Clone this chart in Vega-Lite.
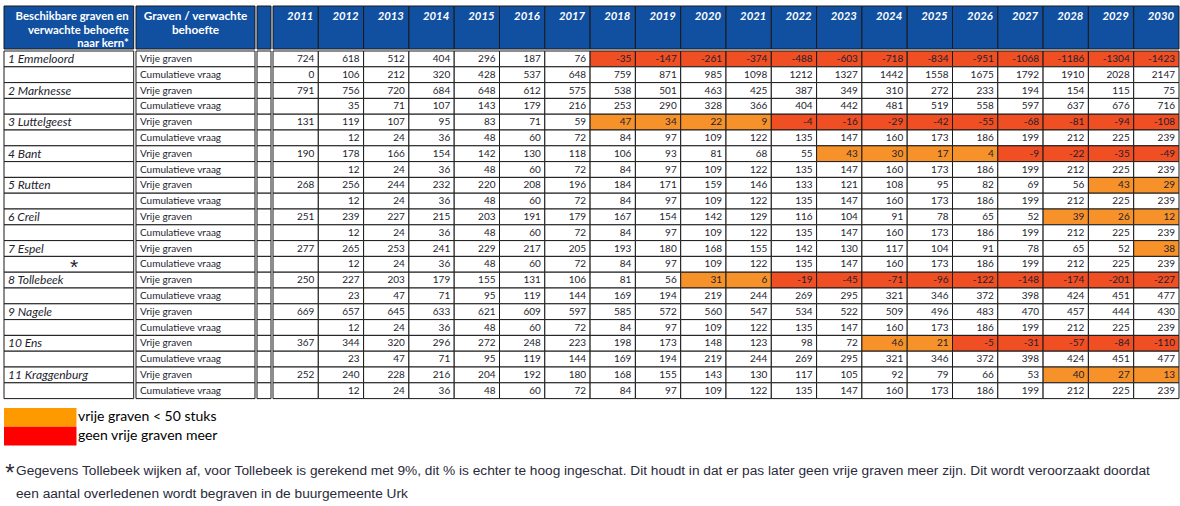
{
  "$schema": "https://vega.github.io/schema/vega-lite/v6.json",
  "padding": {"left": 3, "top": 5, "right": 2, "bottom": 0},
  "background": "white",
  "config": {"view": {"stroke": null}, "concat": {"spacing": 0}, "text": {"font": "Lato", "color": "#1e1e2e"}},
  "datasets": {
    "t": [
      {"r":1,"kern":"1 Emmeloord","graven":"Vrije graven","2011":724,"2012":618,"2013":512,"2014":404,"2015":296,"2016":187,"2017":76,"2018":-35,"2019":-147,"2020":-261,"2021":-374,"2022":-488,"2023":-603,"2024":-718,"2025":-834,"2026":-951,"2027":-1068,"2028":-1186,"2029":-1304,"2030":-1423},
      {"r":2,"kern":"","graven":"Cumulatieve vraag","2011":0,"2012":106,"2013":212,"2014":320,"2015":428,"2016":537,"2017":648,"2018":759,"2019":871,"2020":985,"2021":1098,"2022":1212,"2023":1327,"2024":1442,"2025":1558,"2026":1675,"2027":1792,"2028":1910,"2029":2028,"2030":2147},
      {"r":3,"kern":"2 Marknesse","graven":"Vrije graven","2011":791,"2012":756,"2013":720,"2014":684,"2015":648,"2016":612,"2017":575,"2018":538,"2019":501,"2020":463,"2021":425,"2022":387,"2023":349,"2024":310,"2025":272,"2026":233,"2027":194,"2028":154,"2029":115,"2030":75},
      {"r":4,"kern":"","graven":"Cumulatieve vraag","2012":35,"2013":71,"2014":107,"2015":143,"2016":179,"2017":216,"2018":253,"2019":290,"2020":328,"2021":366,"2022":404,"2023":442,"2024":481,"2025":519,"2026":558,"2027":597,"2028":637,"2029":676,"2030":716},
      {"r":5,"kern":"3 Luttelgeest","graven":"Vrije graven","2011":131,"2012":119,"2013":107,"2014":95,"2015":83,"2016":71,"2017":59,"2018":47,"2019":34,"2020":22,"2021":9,"2022":-4,"2023":-16,"2024":-29,"2025":-42,"2026":-55,"2027":-68,"2028":-81,"2029":-94,"2030":-108},
      {"r":6,"kern":"","graven":"Cumulatieve vraag","2012":12,"2013":24,"2014":36,"2015":48,"2016":60,"2017":72,"2018":84,"2019":97,"2020":109,"2021":122,"2022":135,"2023":147,"2024":160,"2025":173,"2026":186,"2027":199,"2028":212,"2029":225,"2030":239},
      {"r":7,"kern":"4 Bant","graven":"Vrije graven","2011":190,"2012":178,"2013":166,"2014":154,"2015":142,"2016":130,"2017":118,"2018":106,"2019":93,"2020":81,"2021":68,"2022":55,"2023":43,"2024":30,"2025":17,"2026":4,"2027":-9,"2028":-22,"2029":-35,"2030":-49},
      {"r":8,"kern":"","graven":"Cumulatieve vraag","2012":12,"2013":24,"2014":36,"2015":48,"2016":60,"2017":72,"2018":84,"2019":97,"2020":109,"2021":122,"2022":135,"2023":147,"2024":160,"2025":173,"2026":186,"2027":199,"2028":212,"2029":225,"2030":239},
      {"r":9,"kern":"5 Rutten","graven":"Vrije graven","2011":268,"2012":256,"2013":244,"2014":232,"2015":220,"2016":208,"2017":196,"2018":184,"2019":171,"2020":159,"2021":146,"2022":133,"2023":121,"2024":108,"2025":95,"2026":82,"2027":69,"2028":56,"2029":43,"2030":29},
      {"r":10,"kern":"","graven":"Cumulatieve vraag","2012":12,"2013":24,"2014":36,"2015":48,"2016":60,"2017":72,"2018":84,"2019":97,"2020":109,"2021":122,"2022":135,"2023":147,"2024":160,"2025":173,"2026":186,"2027":199,"2028":212,"2029":225,"2030":239},
      {"r":11,"kern":"6 Creil","graven":"Vrije graven","2011":251,"2012":239,"2013":227,"2014":215,"2015":203,"2016":191,"2017":179,"2018":167,"2019":154,"2020":142,"2021":129,"2022":116,"2023":104,"2024":91,"2025":78,"2026":65,"2027":52,"2028":39,"2029":26,"2030":12},
      {"r":12,"kern":"","graven":"Cumulatieve vraag","2012":12,"2013":24,"2014":36,"2015":48,"2016":60,"2017":72,"2018":84,"2019":97,"2020":109,"2021":122,"2022":135,"2023":147,"2024":160,"2025":173,"2026":186,"2027":199,"2028":212,"2029":225,"2030":239},
      {"r":13,"kern":"7 Espel","graven":"Vrije graven","2011":277,"2012":265,"2013":253,"2014":241,"2015":229,"2016":217,"2017":205,"2018":193,"2019":180,"2020":168,"2021":155,"2022":142,"2023":130,"2024":117,"2025":104,"2026":91,"2027":78,"2028":65,"2029":52,"2030":38},
      {"r":14,"kern":"","note":"*","graven":"Cumulatieve vraag","2012":12,"2013":24,"2014":36,"2015":48,"2016":60,"2017":72,"2018":84,"2019":97,"2020":109,"2021":122,"2022":135,"2023":147,"2024":160,"2025":173,"2026":186,"2027":199,"2028":212,"2029":225,"2030":239},
      {"r":15,"kern":"8 Tollebeek","graven":"Vrije graven","2011":250,"2012":227,"2013":203,"2014":179,"2015":155,"2016":131,"2017":106,"2018":81,"2019":56,"2020":31,"2021":6,"2022":-19,"2023":-45,"2024":-71,"2025":-96,"2026":-122,"2027":-148,"2028":-174,"2029":-201,"2030":-227},
      {"r":16,"kern":"","graven":"Cumulatieve vraag","2012":23,"2013":47,"2014":71,"2015":95,"2016":119,"2017":144,"2018":169,"2019":194,"2020":219,"2021":244,"2022":269,"2023":295,"2024":321,"2025":346,"2026":372,"2027":398,"2028":424,"2029":451,"2030":477},
      {"r":17,"kern":"9 Nagele","graven":"Vrije graven","2011":669,"2012":657,"2013":645,"2014":633,"2015":621,"2016":609,"2017":597,"2018":585,"2019":572,"2020":560,"2021":547,"2022":534,"2023":522,"2024":509,"2025":496,"2026":483,"2027":470,"2028":457,"2029":444,"2030":430},
      {"r":18,"kern":"","graven":"Cumulatieve vraag","2012":12,"2013":24,"2014":36,"2015":48,"2016":60,"2017":72,"2018":84,"2019":97,"2020":109,"2021":122,"2022":135,"2023":147,"2024":160,"2025":173,"2026":186,"2027":199,"2028":212,"2029":225,"2030":239},
      {"r":19,"kern":"10 Ens","graven":"Vrije graven","2011":367,"2012":344,"2013":320,"2014":296,"2015":272,"2016":248,"2017":223,"2018":198,"2019":173,"2020":148,"2021":123,"2022":98,"2023":72,"2024":46,"2025":21,"2026":-5,"2027":-31,"2028":-57,"2029":-84,"2030":-110},
      {"r":20,"kern":"","graven":"Cumulatieve vraag","2012":23,"2013":47,"2014":71,"2015":95,"2016":119,"2017":144,"2018":169,"2019":194,"2020":219,"2021":244,"2022":269,"2023":295,"2024":321,"2025":346,"2026":372,"2027":398,"2028":424,"2029":451,"2030":477},
      {"r":21,"kern":"11 Kraggenburg","graven":"Vrije graven","2011":252,"2012":240,"2013":228,"2014":216,"2015":204,"2016":192,"2017":180,"2018":168,"2019":155,"2020":143,"2021":130,"2022":117,"2023":105,"2024":92,"2025":79,"2026":66,"2027":53,"2028":40,"2029":27,"2030":13},
      {"r":22,"kern":"","graven":"Cumulatieve vraag","2012":12,"2013":24,"2014":36,"2015":48,"2016":60,"2017":72,"2018":84,"2019":97,"2020":109,"2021":122,"2022":135,"2023":147,"2024":160,"2025":173,"2026":186,"2027":199,"2028":212,"2029":225,"2030":239}
    ],
    "legend": [
      {"label": "vrije graven < 50 stuks"},
      {"label": "geen vrije graven meer"}
    ],
    "notes": [
      {"line": 1, "star": "*", "text": "Gegevens Tollebeek wijken af, voor Tollebeek is gerekend met 9%, dit % is echter te hoog ingeschat. Dit houdt in dat er pas later geen vrije graven meer zijn. Dit wordt veroorzaakt doordat"},
      {"line": 2, "star": "", "text": "een aantal overledenen wordt begraven in de buurgemeente Urk"}
    ]
  },
  "spacing": 8,
  "vconcat": [
    {
      "spacing": 0,
      "vconcat": [
        {
          "spacing": 0,
          "hconcat": [
            {
              "width": 129.7, "height": 43,
              "data": {"name": "t"},
              "transform": [{"filter": "datum.r == 1"}],
              "layer": [
                {"mark": {"type": "rect", "fill": "#1150a0", "stroke": "#1a1a1a", "strokeWidth": 1}, "encoding": {}},
                {"mark": {"type": "text", "align": "right", "baseline": "alphabetic", "dx": -5, "dy": -7.5, "fontSize": 11.3, "fontWeight": "bold", "color": "white", "lineHeight": 13.5},
                 "encoding": {
                   "x": {"datum": "c", "type": "nominal", "axis": null, "scale": {"type": "band", "paddingInner": 0, "paddingOuter": 0}, "bandPosition": 1},
                   "text": {"value": ["Beschikbare graven en", "verwachte behoefte\u00a0\u00a0", "naar kern*\u00a0\u00a0"]}
                 }}
              ]
            },
            {
              "width": 119, "height": 43,
              "data": {"name": "t"},
              "transform": [{"filter": "datum.r == 1"}],
              "layer": [
                {"mark": {"type": "rect", "fill": "#1150a0", "stroke": "#1a1a1a", "strokeWidth": 1}, "encoding": {}},
                {"mark": {"type": "text", "align": "center", "baseline": "alphabetic", "dy": -7.5, "fontSize": 11.8, "fontWeight": "bold", "color": "white", "lineHeight": 13.5},
                 "encoding": {
                   "text": {"value": ["Graven / verwachte", "behoefte"]}
                 }}
              ]
            },
            {
              "width": 14, "height": 43,
              "data": {"name": "t"},
              "transform": [{"filter": "datum.r == 1"}],
              "mark": {"type": "rect", "fill": "#1150a0", "stroke": "#1a1a1a", "strokeWidth": 1},
              "encoding": {}
            },
            {
              "width": 906, "height": 43,
              "data": {"name": "t"},
              "transform": [
                {"filter": "datum.r == 1"},
                {"fold": ["2011","2012","2013","2014","2015","2016","2017","2018","2019","2020","2021","2022","2023","2024","2025","2026","2027","2028","2029","2030"], "as": ["year", "value"]}
              ],
              "encoding": {
                "x": {"field": "year", "type": "ordinal", "axis": null, "scale": {"paddingInner": 0, "paddingOuter": 0}}
              },
              "layer": [
                {"mark": {"type": "rect", "fill": "#1150a0", "stroke": "#1a1a1a", "strokeWidth": 1}},
                {"mark": {"type": "text", "align": "right", "baseline": "alphabetic", "dx": -5, "dy": -7.5, "fontSize": 11.3, "fontWeight": "bold", "fontStyle": "italic", "color": "white"},
                 "encoding": {
                   "x": {"field": "year", "type": "ordinal", "bandPosition": 1},
                   "text": {"field": "year"}
                 }}
              ]
            }
          ]
        },
        {
          "spacing": 0,
          "hconcat": [
            {
              "width": 129.7, "height": 347.6,
              "data": {"name": "t"},
              "encoding": {
                "y": {"field": "r", "type": "ordinal", "axis": null, "scale": {"paddingInner": 0, "paddingOuter": 0}}
              },
              "layer": [
                {"mark": {"type": "rect", "fill": "white", "stroke": "#1a1a1a", "strokeWidth": 1}},
                {"mark": {"type": "text", "align": "left", "baseline": "middle", "dx": 4, "fontSize": 12, "fontStyle": "italic"},
                 "encoding": {
                   "x": {"datum": "c", "type": "nominal", "axis": null, "scale": {"type": "band", "paddingInner": 0, "paddingOuter": 0}, "bandPosition": 0},
                   "text": {"field": "kern"}
                 }},
                {"transform": [{"filter": "isValid(datum.note)"}],
                 "mark": {"type": "text", "align": "center", "baseline": "middle", "dy": 4, "fontSize": 21, "font": "Liberation Sans"},
                 "encoding": {
                   "x": {"datum": "c", "type": "nominal", "axis": null, "scale": {"type": "band", "paddingInner": 0, "paddingOuter": 0}, "bandPosition": 0.54},
                   "text": {"field": "note"}
                 }}
              ]
            },
            {
              "width": 119, "height": 347.6,
              "data": {"name": "t"},
              "encoding": {
                "y": {"field": "r", "type": "ordinal", "axis": null, "scale": {"paddingInner": 0, "paddingOuter": 0}}
              },
              "layer": [
                {"mark": {"type": "rect", "fill": "white", "stroke": "#1a1a1a", "strokeWidth": 1}},
                {"mark": {"type": "text", "align": "left", "baseline": "middle", "dx": 4, "fontSize": 10},
                 "encoding": {
                   "x": {"datum": "c", "type": "nominal", "axis": null, "scale": {"type": "band", "paddingInner": 0, "paddingOuter": 0}, "bandPosition": 0},
                   "text": {"field": "graven"}
                 }}
              ]
            },
            {
              "width": 14, "height": 347.6,
              "data": {"name": "t"},
              "mark": {"type": "rect", "fill": "white", "stroke": "#1a1a1a", "strokeWidth": 1},
              "encoding": {
                "y": {"field": "r", "type": "ordinal", "axis": null, "scale": {"paddingInner": 0, "paddingOuter": 0}}
              }
            },
            {
              "width": 906, "height": 347.6,
              "data": {"name": "t"},
              "transform": [
                {"fold": ["2011","2012","2013","2014","2015","2016","2017","2018","2019","2020","2021","2022","2023","2024","2025","2026","2027","2028","2029","2030"], "as": ["year", "value"]}
              ],
              "encoding": {
                "y": {"field": "r", "type": "ordinal", "axis": null, "scale": {"paddingInner": 0, "paddingOuter": 0}},
                "x": {"field": "year", "type": "ordinal", "axis": null, "scale": {"paddingInner": 0, "paddingOuter": 0}}
              },
              "layer": [
                {"mark": {"type": "rect", "stroke": "#1a1a1a", "strokeWidth": 1},
                 "encoding": {
                   "fill": {
                     "condition": [
                       {"test": "datum.graven == 'Vrije graven' && datum.value < 0", "value": "#f04e23"},
                       {"test": "datum.graven == 'Vrije graven' && datum.value < 50", "value": "#f7922a"}
                     ],
                     "value": "white"
                   }
                 }},
                {"transform": [{"filter": "isValid(datum.value)"}],
                 "mark": {"type": "text", "align": "right", "baseline": "middle", "dx": -4, "fontSize": 10},
                 "encoding": {
                   "x": {"field": "year", "type": "ordinal", "bandPosition": 1},
                   "text": {"field": "value", "type": "nominal"}
                 }}
              ]
            }
          ]
        }
      ]
    },
    {
      "spacing": 0,
      "hconcat": [
        {
          "width": 72.5, "height": 37.6,
          "data": {"name": "legend"},
          "mark": {"type": "rect"},
          "encoding": {
            "y": {"field": "label", "type": "nominal", "axis": null, "sort": null, "scale": {"paddingInner": 0, "paddingOuter": 0}},
            "fill": {"field": "label", "type": "nominal", "legend": null, "scale": {"domain": ["vrije graven < 50 stuks", "geen vrije graven meer"], "range": ["#ff9900", "#ff0000"]}}
          }
        },
        {
          "width": 300, "height": 37.6,
          "data": {"name": "legend"},
          "mark": {"type": "text", "align": "left", "baseline": "middle", "dx": 1, "fontSize": 14, "color": "#000000"},
          "encoding": {
            "y": {"field": "label", "type": "nominal", "axis": null, "sort": null, "scale": {"paddingInner": 0, "paddingOuter": 0}},
            "x": {"datum": "c", "type": "nominal", "axis": null, "scale": {"type": "band", "paddingInner": 0, "paddingOuter": 0}, "bandPosition": 0},
            "text": {"field": "label"}
          }
        }
      ]
    },
    {
      "spacing": 0,
      "hconcat": [
        {
          "width": 12, "height": 46,
          "data": {"name": "notes"},
          "mark": {"type": "text", "align": "center", "baseline": "middle", "dy": 8, "fontSize": 24, "font": "Liberation Sans", "color": "#2a2a3a"},
          "encoding": {
            "y": {"field": "line", "type": "ordinal", "axis": null, "scale": {"paddingInner": 0, "paddingOuter": 0}},
            "text": {"field": "star"}
          }
        },
        {
          "width": 1150, "height": 46,
          "data": {"name": "notes"},
          "mark": {"type": "text", "align": "left", "baseline": "middle", "dy": 5, "fontSize": 13.7, "font": "Liberation Sans", "color": "#2a2a3a"},
          "encoding": {
            "y": {"field": "line", "type": "ordinal", "axis": null, "scale": {"paddingInner": 0, "paddingOuter": 0}},
            "x": {"datum": "c", "type": "nominal", "axis": null, "scale": {"type": "band", "paddingInner": 0, "paddingOuter": 0}, "bandPosition": 0},
            "text": {"field": "text"}
          }
        }
      ]
    }
  ]
}
